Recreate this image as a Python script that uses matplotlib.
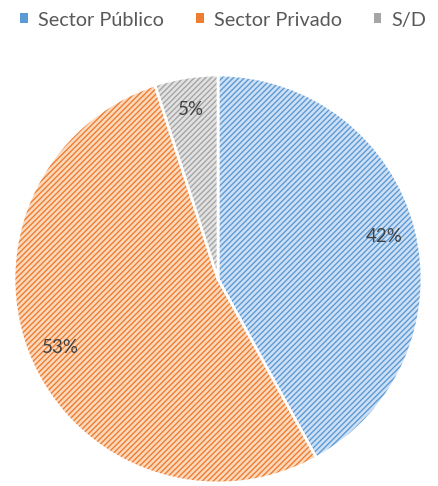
# Grafico de pastel: distribucion por sector (Publico / Privado / S/D)
import matplotlib
matplotlib.use("Agg")
import matplotlib.pyplot as plt
from matplotlib.patches import Patch

categorias = ["Sector Público", "Sector Privado", "S/D"]
porcentajes = [42, 53, 5]

colores_fondo = ["#cfe0f5", "#fcd9bd", "#e2e2e2"]
colores_trama = ["#5b9bd5", "#ed7d31", "#a5a5a5"]
color_texto = "#404040"

plt.rcParams["hatch.linewidth"] = 1.0
plt.rcParams["font.family"] = ["Lato", "DejaVu Sans"]

fig = plt.figure(figsize=(4.38, 4.86), dpi=100)
ax = fig.add_axes([14 / 438, 3 / 486, 408 / 438, 408 / 486])

cunas, textos, autotextos = ax.pie(
    porcentajes,
    startangle=90,
    counterclock=False,
    autopct=lambda p: "%d%%" % round(p),
    pctdistance=0.84,
    colors=colores_fondo,
    wedgeprops=dict(edgecolor="white", linewidth=2),
    textprops=dict(color=color_texto, fontsize=13.5),
)
for cuna, trama in zip(cunas, colores_trama):
    cuna.set_hatch("//////")
    cuna._hatch_color = matplotlib.colors.to_rgba(trama)
ax.set_xlim(-1.0, 1.0)
ax.set_ylim(-1.0, 1.0)
ax.set_aspect("equal")

# leyenda arriba
manejadores = [Patch(facecolor=c, edgecolor="none") for c in colores_trama]
fig.legend(
    manejadores,
    categorias,
    loc="upper center",
    bbox_to_anchor=(0.51, 1.013),
    ncol=3,
    frameon=False,
    fontsize=14.3,
    handlelength=0.4,
    handleheight=0.4,
    handletextpad=0.5,
    columnspacing=1.6,
    labelcolor="#595959",
)

fig.savefig("out.png", dpi=100)
